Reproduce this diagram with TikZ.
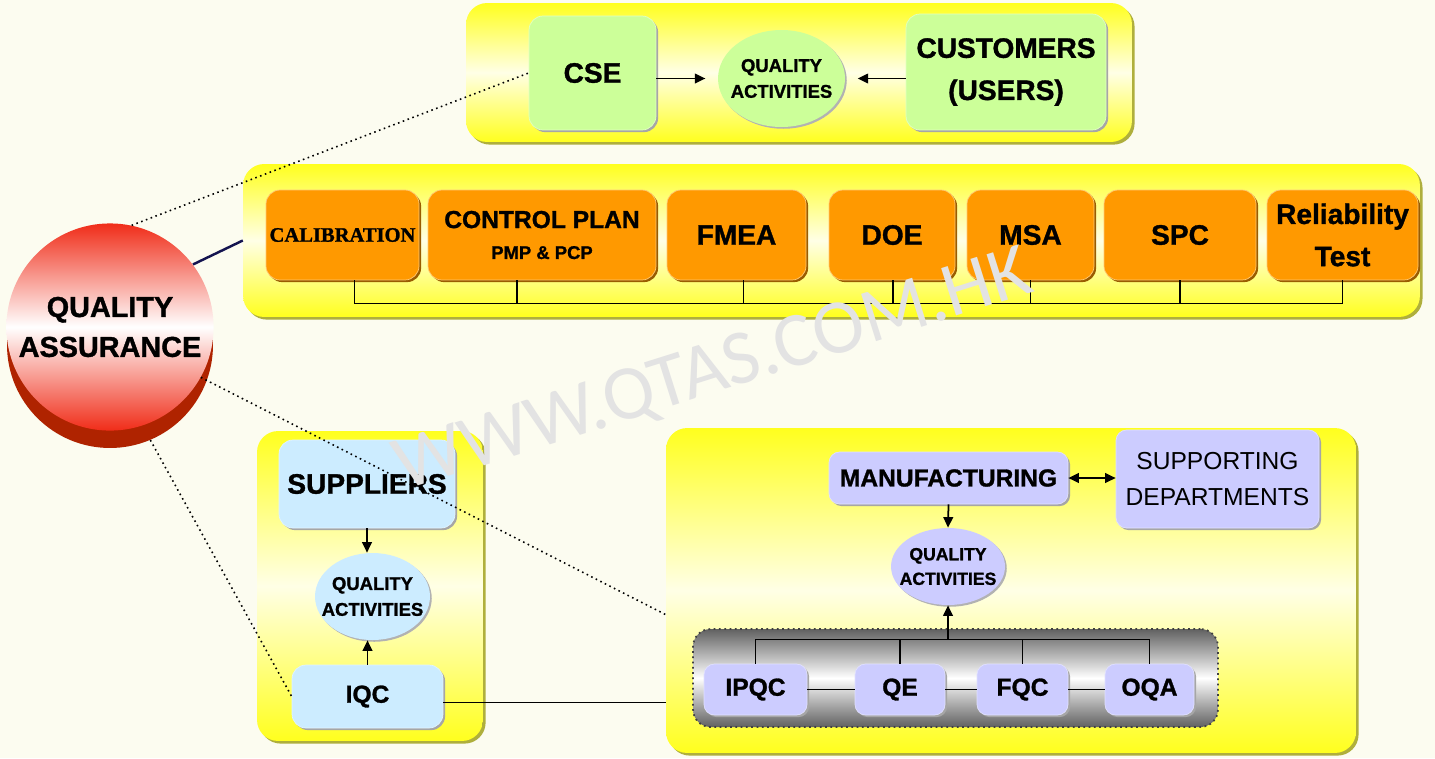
\documentclass[tikz,border=0pt]{standalone}
\usepackage{fontspec}
\setmainfont{Liberation Sans}[BoldFeatures={FakeBold=1.2}]
\newfontfamily\calibfont{Liberation Serif}[BoldFeatures={FakeBold=1.2}]
\newfontfamily\markfont{Carlito}
\usetikzlibrary{shapes,arrows.meta,positioning,calc,shadows}

\definecolor{qabg}{RGB}{252,252,240}
\definecolor{qayellow}{RGB}{255,255,30}
\definecolor{qapale}{RGB}{255,255,230}
\definecolor{qaolive}{RGB}{175,175,60}
\definecolor{qagreen}{RGB}{204,255,153}
\definecolor{qaorange}{RGB}{255,153,0}
\definecolor{qablue}{RGB}{204,236,255}
\definecolor{qalav}{RGB}{204,204,255}
\definecolor{qared}{RGB}{240,45,25}
\definecolor{qadark}{RGB}{175,35,0}
\definecolor{qanavy}{RGB}{20,20,80}

\newcommand\bigtxt{\fontsize{16}{24}\selectfont\bfseries}
\newcommand\midtxt{\fontsize{14}{17.6}\selectfont\bfseries}
\newcommand\regtxt{\fontsize{14}{20}\selectfont}
\newcommand\acttxt{\fontsize{10.5}{14.7}\selectfont\bfseries}

\begin{document}
\begin{tikzpicture}[
    x=0.02cm, y=-0.02cm,
    panel/.style={rectangle, rounded corners=12pt, top color=qayellow, bottom color=qayellow, middle color=qapale, drop shadow={shadow xshift=1.5pt, shadow yshift=-1.5pt, fill=qaolive, opacity=1}},
    box1/.style={rectangle, rounded corners=8pt, inner sep=0pt, fill=qagreen, draw=qagreen!60!white, align=center, font=\bigtxt, drop shadow={shadow xshift=1.2pt, shadow yshift=-1.2pt, fill=black!35, opacity=1}},
    box2/.style={rectangle, rounded corners=8pt, inner sep=0pt, fill=qaorange, draw=qaorange!55!white, minimum height=1.8cm, align=center, font=\bigtxt, drop shadow={shadow xshift=1.2pt, shadow yshift=-1.2pt, fill=qaorange!60!black, opacity=1}},
    box3/.style={rectangle, rounded corners=8pt, inner sep=0pt, fill=qablue, draw=qablue!60!white, align=center, font=\bigtxt, drop shadow={shadow xshift=1.2pt, shadow yshift=-1.2pt, fill=black!35, opacity=1}},
    box4/.style={rectangle, rounded corners=6pt, inner sep=0pt, fill=qalav, draw=qalav!60!white, align=center, font=\midtxt, drop shadow={shadow xshift=1.2pt, shadow yshift=-1.2pt, fill=black!35, opacity=1}},
    oval/.style={ellipse, inner xsep=-8pt, inner ysep=-2pt, align=center, font=\acttxt, drop shadow={shadow xshift=1pt, shadow yshift=-1pt, fill=black!30, opacity=1}},
    holder/.style={rectangle, rounded corners=10pt, draw=black!75, dotted, line width=1pt, top color=black!62, bottom color=black!62, middle color=white},
    arrow/.style={-{Triangle[length=6pt,width=5.5pt]}, line width=1pt},
    dblarrow/.style={{Triangle[length=6pt,width=5.5pt]}-{Triangle[length=6pt,width=5.5pt]}, line width=1pt},
    bus/.style={line width=0.8pt},
    link/.style={line width=1pt},
    dotline/.style={dotted, line width=0.9pt},
    navyline/.style={line width=1.4pt, draw=qanavy}
]
    \useasboundingbox[fill=qabg] (0,0) rectangle (1435,758);

    \node [panel, minimum width=13.32cm, minimum height=2.78cm] (toppanel) at (799,72.5) {};
    \node [box1, minimum width=2.54cm, minimum height=2.28cm] (cse) at (592.5,73) {CSE};
    \node [oval, fill=qagreen, minimum width=2.54cm, minimum height=1.94cm] (act1) at (781.5,78.5) {QUALITY\\ACTIVITIES};
    \node [box1, minimum width=4cm, minimum height=2.32cm] (cust) at (1006,72) {CUSTOMERS\\(USERS)};
    \draw [arrow, shorten >=7pt] (cse.east |- act1.west) -- (act1.west);
    \draw [arrow, shorten >=7pt] (cust.west |- act1.east) -- (act1.east);

    \node [panel, minimum width=23.54cm, minimum height=3.06cm] (midpanel) at (831.5,240.5) {};
    \node [box2, minimum width=3.06cm, font=\calibfont\fontsize{11.7}{14}\selectfont\bfseries] (calib) at (342.5,235) {CALIBRATION};
    \node [box2, minimum width=4.56cm, font=\midtxt] (ctrl) at (542,235) {CONTROL PLAN\\{\fontsize{10.5}{12}\selectfont PMP \& PCP}};
    \node [box2, minimum width=2.78cm] (fmea) at (736.5,235) {FMEA};
    \node [box2, minimum width=2.52cm] (doe) at (892,235) {DOE};
    \node [box2, minimum width=2.54cm] (msa) at (1030.5,235) {MSA};
    \node [box2, minimum width=3.04cm] (spc) at (1180,235) {SPC};
    \node [box2, minimum width=3.02cm] (rel) at (1342.5,235) {Reliability\\Test};
    \draw [bus] ($(calib.south)+(12,0)$) -- ++(0,23) -| (rel.south);
    \foreach \n/\dx in {ctrl/-25, fmea/7, doe/1, msa/0, spc/0}
        \draw [bus] ($(\n.south)+(\dx,0)$) -- ++(0,23);

    \node [panel, minimum width=4.52cm, minimum height=6.2cm] (blpanel) at (370,586) {};
    \node [box3, minimum width=3.52cm, minimum height=1.76cm] (suppl) at (367,484) {SUPPLIERS};
    \node [oval, fill=qablue, minimum width=2.3cm, minimum height=1.74cm] (act2) at (372.5,596.5) {QUALITY\\ACTIVITIES};
    \node [box3, font=\midtxt, minimum width=3.02cm, minimum height=1.26cm] (iqc) at (367.5,696.5) {IQC};
    \draw [arrow] (suppl.south) -- (suppl.south |- act2.north);
    \draw [arrow] (iqc.north) -- (iqc.north |- act2.south);

    \node [panel, minimum width=13.8cm, minimum height=6.5cm] (brpanel) at (1011,590.5) {};
    \node [box4, minimum width=4.78cm, minimum height=1.04cm] (manuf) at (948.5,478) {MANUFACTURING};
    \node [box4, font=\regtxt, minimum width=4.06cm, minimum height=1.96cm] (support) at (1217.5,479) {SUPPORTING\\DEPARTMENTS};
    \node [oval, fill=qalav, font=\fontsize{10}{14}\selectfont\bfseries, minimum width=2.28cm, minimum height=1.54cm] (act3) at (948,566.5) {QUALITY\\ACTIVITIES};
    \node [holder, minimum width=10.5cm, minimum height=1.96cm] (tray) at (955.5,678) {};
    \node [box4, minimum width=2.06cm, minimum height=1.02cm] (ipqc) at (755.5,689.5) {IPQC};
    \node [box4, minimum width=1.8cm, minimum height=1.02cm] (qe) at (900,689.5) {QE};
    \node [box4, minimum width=1.82cm, minimum height=1.02cm] (fqc) at (1022.5,689.5) {FQC};
    \node [box4, minimum width=1.78cm, minimum height=1.02cm] (oqa) at (1149.5,689.5) {OQA};
    \draw [dblarrow] (manuf.east) -- (manuf.east -| support.west);
    \draw [arrow] (manuf.south) -- (act3.north);
    \draw [bus] (ipqc.north) -- ++(0,-24) coordinate (busq) -| (oqa.north);
    \foreach \n in {qe,fqc}
        \draw [bus] (\n.north) -- ++(0,-24);
    \draw [arrow] (act3.south |- busq) -- (act3.south);
    \draw [link] (ipqc) -- (qe);
    \draw [link] (qe) -- (fqc);
    \draw [link] (fqc) -- (oqa);
    \draw [link] ($(iqc.east)+(0,6)$) -- ($(iqc.east -| brpanel.west)+(0,6)$);

    \node [circle, minimum size=4.12cm, fill=qadark] (qaside) at (110,345) {};
    \node [circle, minimum size=4.12cm, top color=qared, bottom color=qared, middle color=white, align=center, font=\fontsize{16.4}{22.7}\selectfont\bfseries] (qa) at (110,327) {QUALITY\\ASSURANCE};
    \draw [navyline] (qa.37) -- (midpanel.west);
    \draw [dotline] (qa.78) -- (cse.west);
    \draw [dotline] (qa.-29) -- (brpanel.184);
    \draw [dotline] (qaside.-67) -- (iqc.west);

    \node [rotate=17.5, text=black!11, font=\markfont\fontsize{44}{44}\selectfont] (mark) at (714,372) {WWW.QTAS.COM.HK};
\end{tikzpicture}
\end{document}
